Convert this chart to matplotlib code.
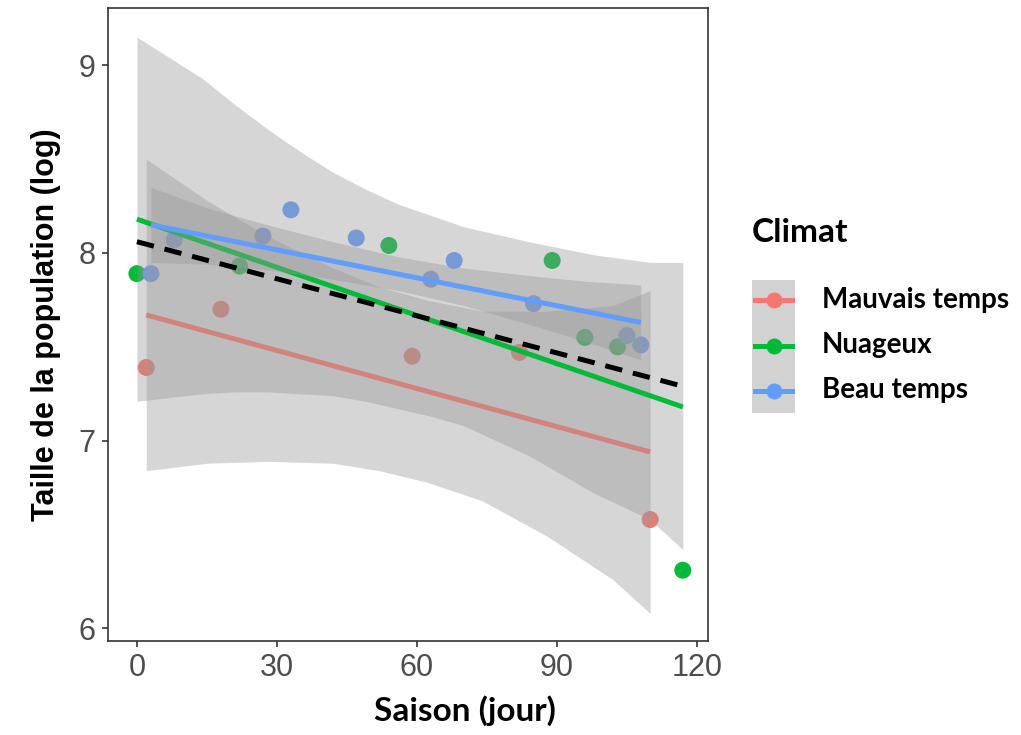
import matplotlib.pyplot as plt
from matplotlib.lines import Line2D

# points
red_x = [2, 18, 59, 82, 110]
red_y = [7.39, 7.70, 7.45, 7.47, 6.58]
green_x = [0, 22, 54, 89, 96, 103, 117]
green_y = [7.89, 7.93, 8.04, 7.96, 7.55, 7.50, 6.31]
blue_x = [3, 8, 27, 33, 47, 63, 68, 85, 105, 108]
blue_y = [7.89, 8.07, 8.09, 8.23, 8.08, 7.86, 7.96, 7.73, 7.56, 7.51]

# fitted lines (end points)
red_fit_x = [2, 110]
red_fit_y = [7.67, 6.94]
green_fit_x = [0, 117]
green_fit_y = [8.18, 7.18]
blue_fit_x = [3, 108]
blue_fit_y = [8.15, 7.63]
all_fit_x = [0, 117]
all_fit_y = [8.06, 7.29]

# confidence bands
red_band_x = [2, 15, 28, 42, 52, 62, 74, 88, 102, 110]
red_band_lo = [6.84, 6.88, 6.89, 6.88, 6.84, 6.78, 6.68, 6.49, 6.26, 6.08]
red_band_hi = [8.50, 8.28, 8.09, 7.92, 7.82, 7.75, 7.69, 7.69, 7.72, 7.80]
green_band_x = [0, 7, 14, 21, 28, 35, 42, 49, 56, 63, 70, 84, 98, 110, 117]
green_band_lo = [7.21, 7.23, 7.25, 7.26, 7.26, 7.25, 7.24, 7.21, 7.17, 7.13, 7.08, 6.92, 6.72, 6.58, 6.42]
green_band_hi = [9.15, 9.04, 8.93, 8.79, 8.66, 8.54, 8.43, 8.34, 8.26, 8.20, 8.14, 8.06, 7.99, 7.95, 7.95]
blue_band_x = [3, 15, 28, 42, 56, 70, 84, 96, 108]
blue_band_lo = [7.95, 7.94, 7.91, 7.86, 7.80, 7.72, 7.62, 7.53, 7.43]
blue_band_hi = [8.35, 8.24, 8.15, 8.06, 7.98, 7.92, 7.88, 7.85, 7.83]

groups = ['Mauvais temps', 'Nuageux', 'Beau temps']
colors = ['#F8766D', '#00BA38', '#619CFF']

W, H = 1021, 735
fig = plt.figure(figsize=(W / 100, H / 100), dpi=100)
ax = fig.add_axes([108 / W, 1 - 641 / H, 600 / W, 633 / H])

# points first, bands drawn over them like ggplot
for xs, ys, c in zip([red_x, green_x, blue_x], [red_y, green_y, blue_y], colors):
    ax.scatter(xs, ys, s=150, color=c, edgecolors='none', zorder=1)

bands = [(red_band_x, red_band_lo, red_band_hi, red_fit_x, red_fit_y),
         (green_band_x, green_band_lo, green_band_hi, green_fit_x, green_fit_y),
         (blue_band_x, blue_band_lo, blue_band_hi, blue_fit_x, blue_fit_y)]
z = 2
for (bx, lo, hi, fx, fy), c in zip(bands, colors):
    ax.fill_between(bx, lo, hi, color='#999999', alpha=0.4, linewidth=0, zorder=z)
    ax.plot(fx, fy, color=c, lw=3.6, solid_capstyle='butt', zorder=z + 1)
    z += 2

ax.plot(all_fit_x, all_fit_y, color='black', lw=3.6, dashes=(3.5, 2.2), zorder=10)

ax.set_xlim(-6.2, 122.4)
ax.set_ylim(5.933, 9.305)
ax.set_xticks([0, 30, 60, 90, 120])
ax.set_yticks([6, 7, 8, 9])
for s in ax.spines.values():
    s.set_color('#333333')
    s.set_linewidth(1.2)
ax.tick_params(direction='out', length=4, width=1.2, color='#333333',
               labelcolor='#4d4d4d', labelsize=22, pad=5)
for lab in ax.get_xticklabels() + ax.get_yticklabels():
    lab.set_family('Liberation Sans')

fig.text(465 / W, 1 - 721 / H, 'Saison (jour)', family='Lato', weight='bold',
         fontsize=24, ha='center', va='baseline')
fig.text(46 / W, 1 - 325 / H, 'Taille de la population (log)', family='Liberation Sans',
         weight='bold', fontsize=22, rotation=90, ha='center', va='center')

# legend
fig.text(752 / W, 1 - 233 / H, 'Climat', family='Lato', weight='bold',
         fontsize=24, ha='left', va='center')
kax = fig.add_axes([752 / W, 1 - 413 / H, 43 / W, 133 / H])
kax.set_facecolor('#d2d2d2')
kax.set_xlim(0, 1)
kax.set_ylim(0, 3)
kax.set_xticks([])
kax.set_yticks([])
for s in kax.spines.values():
    s.set_visible(False)
for i, (g, c) in enumerate(zip(groups, colors)):
    yk = 2.55 - i * 1.03
    kax.add_line(Line2D([0.07, 0.93], [yk, yk], color=c, lw=3.6))
    kax.plot([0.5], [yk], 'o', color=c, ms=11.5, mec='none')
    fig.text(822 / W, 1 - (300 + 45 * i) / H, g, family='Lato', weight='bold',
             fontsize=20, ha='left', va='center')

fig.savefig('out.png', dpi=100)
